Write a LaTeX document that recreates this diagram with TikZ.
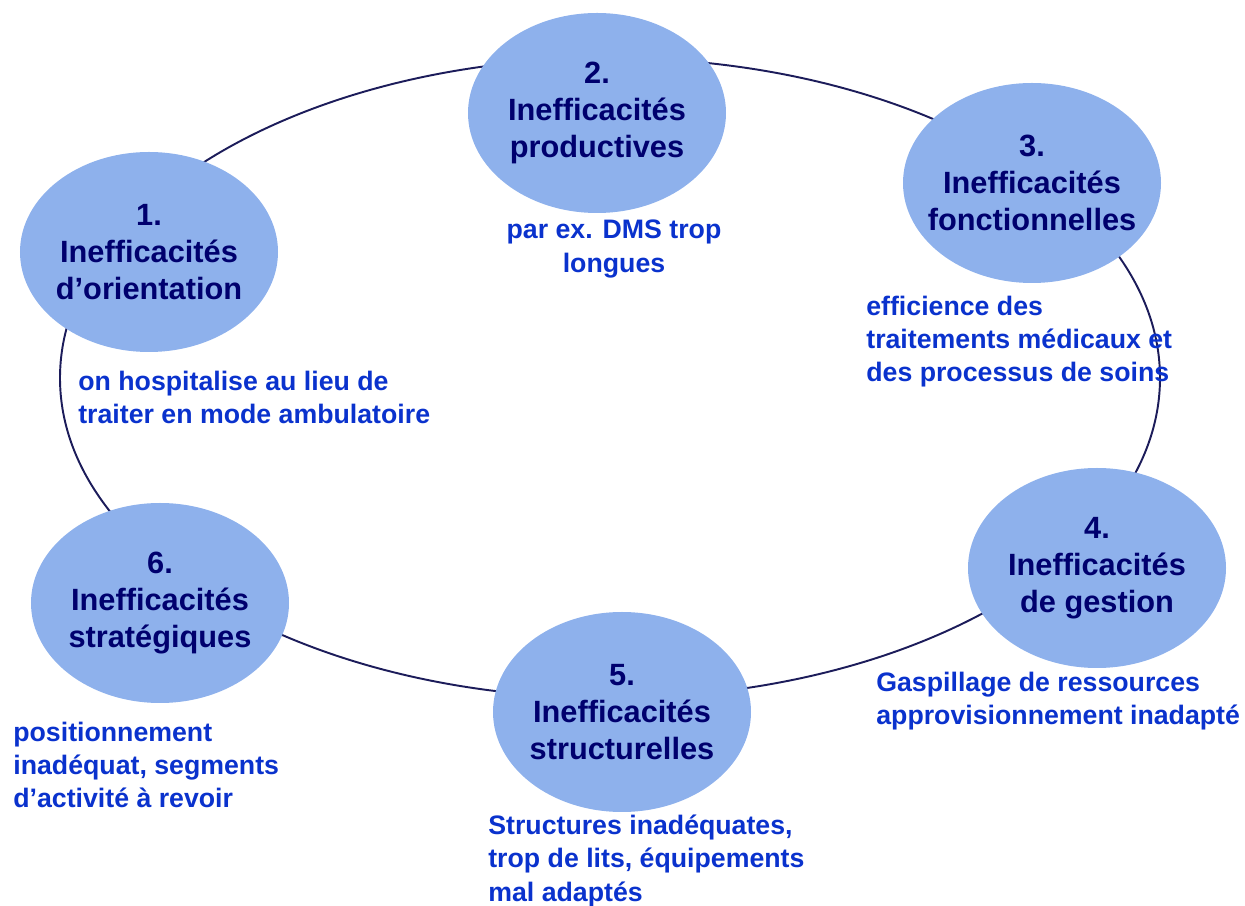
\documentclass[tikz,border=0pt]{standalone}
\usepackage{fontspec}
\setmainfont{Liberation Sans}
\usepackage{xcolor}
\usetikzlibrary{shapes.geometric}
\definecolor{ringline}{RGB}{28,28,90}
\definecolor{bubble}{RGB}{142,177,236}
\definecolor{titletext}{RGB}{0,0,110}
\definecolor{notetext}{RGB}{10,50,205}

\begin{document}
\begin{tikzpicture}[
    bubble/.style={ellipse,fill=bubble,minimum width=5.16cm,minimum height=4cm,
                   inner xsep=-0.45cm,inner ysep=-0.1cm,
                   align=center,text=titletext,font=\fontsize{17.5}{21}\selectfont\bfseries},
    note/.style={inner sep=0pt,text=notetext,font=\fontsize{15.2}{18.8}\selectfont\bfseries}
  ]
    \useasboundingbox (0,0) rectangle (24.9,18.12);
    \draw[ringline,line width=1.1pt] (12.2,10.56) ellipse [x radius=11,y radius=6.4];
    %\draw[help lines,step=1] (0,0) grid (24.9,18.12);
    \node[bubble] (orient) at (2.98,13.08) {1.\\Inefficacités\\d’orientation};
    \node[bubble] (prod)   at (11.94,15.86) {2.\\Inefficacités\\productives};
    \node[bubble] (fonct)  at (20.64,14.46) {3.\\Inefficacités\\fonctionnelles};
    \node[bubble] (gest)   at (21.94,6.76) {4.\\Inefficacités\\de gestion};
    \node[bubble] (struct) at (12.44,3.88) {5.\\Inefficacités\\structurelles};
    \node[bubble] (strat)  at (3.20,6.06) {6.\\Inefficacités\\stratégiques};
    % notes under each bubble
    \node[note,anchor=north west,align=left] (orientnote) at (1.56,10.70)
        {on hospitalise au lieu de\\traiter en mode ambulatoire};
    \node[note,anchor=north,align=center] (prodnote) at (12.28,13.72)
        {par ex. DMS trop\\longues};
    \node[note,anchor=north west,align=left] (fonctnote) at (17.32,12.20)
        {efficience des\\traitements médicaux et\\des processus de soins};
    \node[note,anchor=north west,align=left] (gestnote) at (17.52,4.68)
        {Gaspillage de ressources\\approvisionnement inadapté};
    \node[note,anchor=north west,align=left] (structnote) at (9.76,1.82)
        {Structures inadéquates,\\trop de lits, équipements\\mal adaptés};
    \node[note,anchor=north west,align=left] (stratnote) at (0.26,3.68)
        {positionnement\\inadéquat, segments\\d’activité à revoir};
\end{tikzpicture}
\end{document}
